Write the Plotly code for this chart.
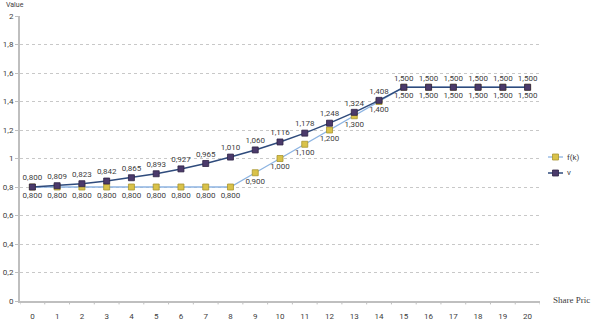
import plotly.graph_objects as go

share_price = list(range(21))
fk = [0.8, 0.8, 0.8, 0.8, 0.8, 0.8, 0.8, 0.8, 0.8, 0.9, 1.0, 1.1, 1.2, 1.3, 1.4,
      1.5, 1.5, 1.5, 1.5, 1.5, 1.5]
v = [0.800, 0.809, 0.823, 0.842, 0.865, 0.893, 0.927, 0.965, 1.010, 1.060, 1.116,
     1.178, 1.248, 1.324, 1.408, 1.5, 1.5, 1.5, 1.5, 1.5, 1.5]
y_ticks = [0, 0.2, 0.4, 0.6, 0.8, 1.0, 1.2, 1.4, 1.6, 1.8, 2.0]
y_tick_text = ["0", "0,2", "0,4", "0,6", "0,8", "1", "1,2", "1,4", "1,6", "1,8", "2"]
series_names = ["f(k)", "v"]


def lab(vals):
    return [f"{x:.3f}".replace(".", ",") for x in vals]


FONT = "Roboto"
label_font = dict(family=FONT, size=8, color="#404040")

styles = [
    dict(line="#8DB4E2", lw=1.3, fill="#D9C24A", edge="#A89530"),
    dict(line="#2F4B7C", lw=1.5, fill="#4B3A6B", edge="#2E2345"),
]

fig = go.Figure()
for name, vals, pos, st in zip(series_names, [fk, v], ["bottom center", "top center"], styles):
    fig.add_trace(go.Scatter(
        x=share_price, y=vals, name=name, mode="lines+markers+text",
        text=lab(vals), textposition=pos, textfont=label_font,
        line=dict(color=st["line"], width=st["lw"]),
        marker=dict(symbol="square", size=6, color=st["fill"],
                    line=dict(color=st["edge"], width=0.8)),
    ))

L, R, T, B, W, H = 20, 53, 16, 24, 593, 325
PW, PH = W - L - R, H - T - B

fig.update_layout(
    width=W, height=H,
    margin=dict(l=L, r=R, t=T, b=B, autoexpand=False),
    paper_bgcolor="white", plot_bgcolor="white",
    font=dict(family=FONT, size=8, color="#404040"),
    showlegend=False,
    xaxis=dict(type="linear", range=[-0.5, 20.5], tickmode="array",
               tickvals=share_price, ticktext=[str(s) for s in share_price],
               showgrid=False, zeroline=False, showline=True, automargin=False,
               linecolor="#BFBFBF", linewidth=2, ticks="", ticklabelstandoff=6,
               tickfont=dict(family=FONT, size=8, color="#404040")),
    yaxis=dict(range=[0, 2], tickmode="array", tickvals=y_ticks, ticktext=y_tick_text,
               showgrid=True, gridcolor="#C8C8C8", griddash="dot", gridwidth=1,
               zeroline=False, showline=True, linecolor="#BFBFBF", linewidth=2,
               automargin=False,
               ticks="outside", ticklen=3, tickcolor="#BFBFBF",
               tickfont=dict(family=FONT, size=8, color="#404040")),
)

# x tick marks at category boundaries
for b in [i + 0.5 for i in range(-1, 21)]:
    fig.add_shape(type="line", xref="x", yref="paper", x0=b, x1=b, y0=0, y1=-0.012,
                  line=dict(color="#BFBFBF", width=1))


def px(xp):
    return (xp - L) / PW


def py(yp):
    return (H - B - yp) / PH


# manual legend
for i, (name, st) in enumerate(zip(series_names, styles)):
    yy = py(157 + 16 * i)
    fig.add_shape(type="line", xref="paper", yref="paper", x0=px(548), x1=px(563),
                  y0=yy, y1=yy, line=dict(color=st["line"], width=st["lw"]))
    fig.add_shape(type="rect", xref="paper", yref="paper",
                  x0=px(552.5), x1=px(558.5), y0=py(160 + 16 * i), y1=py(154 + 16 * i),
                  fillcolor=st["fill"], line=dict(color=st["edge"], width=0.8))
    fig.add_annotation(text=name, xref="paper", yref="paper", x=px(565), y=yy,
                       xanchor="left", yanchor="middle", showarrow=False,
                       font=dict(family=FONT, size=8, color="#404040"))

fig.add_annotation(text="Share Pric", xref="paper", yref="paper", x=px(552), y=py(300),
                   xanchor="left", yanchor="middle", showarrow=False, borderpad=0,
                   font=dict(family="Liberation Serif", size=9, color="#404040"))
fig.add_annotation(text="Value", xref="paper", yref="paper", x=px(4), y=py(5),
                   xanchor="left", yanchor="middle", showarrow=False,
                   font=dict(family=FONT, size=7, color="#404040"))

fig.write_html("out.html")
